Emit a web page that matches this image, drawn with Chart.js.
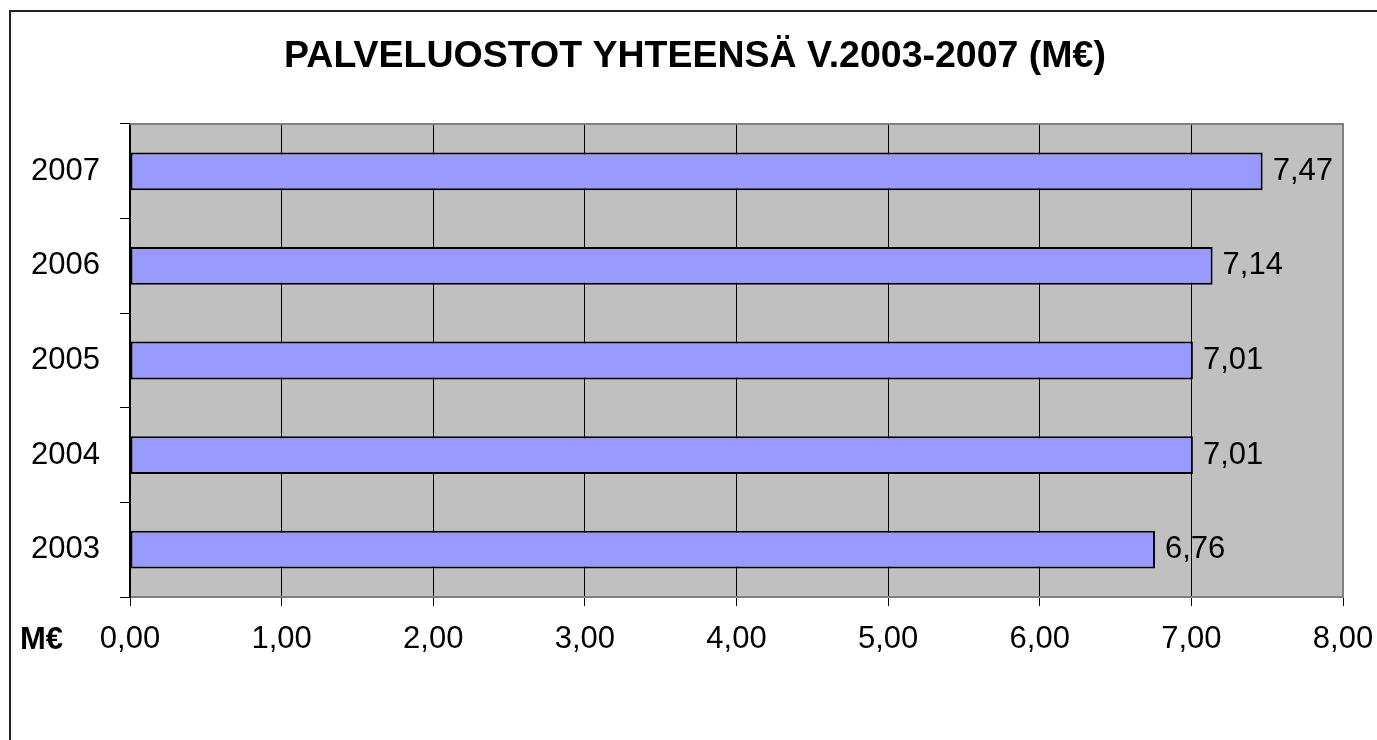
<!DOCTYPE html>
<html>
<head>
<meta charset="utf-8">
<title>Palveluostot yhteensä</title>
<script src="https://cdn.jsdelivr.net/npm/chart.js@4/dist/chart.umd.min.js"></script>
<style>
    html, body { margin: 0; padding: 0; background: #fff; }
    #wrap { width: 1377px; height: 740px; position: relative; }
</style>
</head>
<body>
<div id="wrap"><canvas id="costChart"></canvas></div>
<script>
// data
const chartTitle = "PALVELUOSTOT YHTEENSÄ V.2003-2007 (M€)";
const years = ["2003", "2004", "2005", "2006", "2007"];
const costs = [6.76, 7.01, 7.01, 7.14, 7.47];
const xTicks = [0, 1, 2, 3, 4, 5, 6, 7, 8];

const FONT = "'Liberation Sans', Arial, sans-serif";

function fi(v) {
    return v.toFixed(2).replace(".", ",");
}

// frame, plot background, title and labels
const decorations = {
    id: "decorations",
    beforeDraw(chart) {
        const { ctx, chartArea: a } = chart;
        ctx.save();
        ctx.fillStyle = "#C0C0C0";
        ctx.fillRect(a.left, a.top, a.right - a.left, a.bottom - a.top);
        ctx.strokeStyle = "#222";
        ctx.lineWidth = 2;
        ctx.beginPath();
        ctx.moveTo(10, 740);
        ctx.lineTo(10, 11);
        ctx.lineTo(1377, 11);
        ctx.stroke();
        ctx.restore();
    },
    afterDraw(chart) {
        const { ctx, chartArea: a } = chart;
        ctx.save();
        ctx.strokeStyle = "#808080";
        ctx.lineWidth = 2;
        ctx.beginPath();
        ctx.moveTo(a.left, a.top);
        ctx.lineTo(a.right, a.top);
        ctx.lineTo(a.right, a.bottom);
        ctx.stroke();

        ctx.fillStyle = "#000";
        ctx.textBaseline = "middle";

        // title
        ctx.font = "bold 37.5px " + FONT;
        ctx.textAlign = "center";
        ctx.fillText(chartTitle, 695, 57);

        // value labels
        ctx.font = "31px " + FONT;
        ctx.textAlign = "left";
        chart.getDatasetMeta(0).data.forEach((bar, i) => {
            ctx.fillText(fi(costs[i]), bar.x + 10, bar.y);
        });

        // unit label
        ctx.font = "bold 31px " + FONT;
        ctx.fillText("M€", 20, 640);
        ctx.restore();
    }
};

const ctx = document.getElementById("costChart").getContext("2d");
new Chart(ctx, {
    type: "bar",
    data: {
        labels: years,
        datasets: [{
            data: costs,
            backgroundColor: "#9999FF",
            borderColor: "#000",
            borderWidth: 2,
            borderSkipped: false,
            barPercentage: 0.4,
            categoryPercentage: 1
        }]
    },
    options: {
        indexAxis: "y",
        responsive: true,
        maintainAspectRatio: false,
        animation: false,
        layout: { padding: { left: 0, right: 34, top: 124, bottom: 0 } },
        plugins: {
            legend: { display: false },
            tooltip: { enabled: false },
            title: { display: false }
        },
        scales: {
            x: {
                min: 0,
                max: 8,
                afterFit(scale) {
                    scale.height = 143;
                    scale.paddingLeft = 0;
                    scale.paddingRight = 0;
                },
                afterBuildTicks(scale) { scale.ticks = xTicks.map(v => ({ value: v })); },
                grid: {
                    color: "#000",
                    lineWidth: 1,
                    tickLength: 9,
                    drawOnChartArea: true
                },
                border: { color: "#808080", width: 2 },
                ticks: {
                    color: "#000",
                    padding: 15,
                    maxRotation: 0,
                    font: { family: FONT, size: 31 },
                    callback: v => fi(v)
                }
            },
            y: {
                reverse: true,
                afterFit(scale) {
                    scale.width = 130;
                    scale.paddingTop = 0;
                    scale.paddingBottom = 0;
                },
                grid: {
                    color: "#000",
                    lineWidth: 1,
                    tickLength: 10,
                    drawOnChartArea: false,
                    offset: true
                },
                border: { color: "#000", width: 2 },
                ticks: {
                    color: "#000",
                    padding: 20,
                    font: { family: FONT, size: 31 }
                }
            }
        }
    },
    plugins: [decorations]
});
</script>
</body>
</html>
